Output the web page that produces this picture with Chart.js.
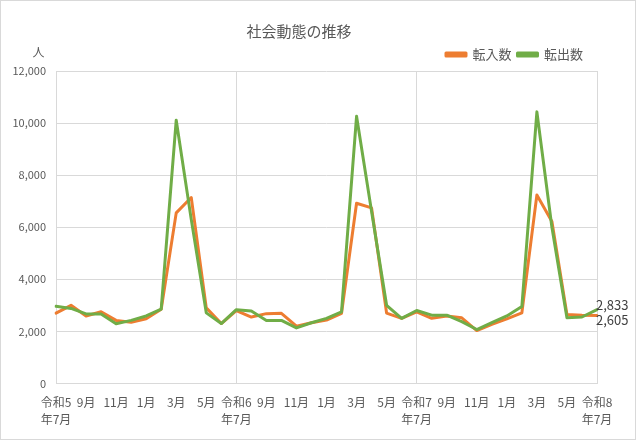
<!DOCTYPE html>
<html lang="ja">
<head>
<meta charset="utf-8">
<script src="https://cdn.jsdelivr.net/npm/chart.js@4/dist/chart.umd.min.js"></script>
<style>
  html, body { margin: 0; padding: 0; background: #fff; }
  #wrap { position: relative; width: 636px; height: 440px; box-sizing: border-box; border: 1px solid #d9d9d9; }
  #chart { display: block; }
</style>
</head>
<body>
<div id="wrap"><canvas id="chart" width="634" height="438"></canvas></div>
<script>
// 社会動態の推移 — 令和5年7月〜令和8年7月（月次）
const months = [
  ['令和5', '年7月'], '8月', '9月', '10月', '11月', '12月', '1月', '2月', '3月', '4月', '5月', '6月',
  ['令和6', '年7月'], '8月', '9月', '10月', '11月', '12月', '1月', '2月', '3月', '4月', '5月', '6月',
  ['令和7', '年7月'], '8月', '9月', '10月', '11月', '12月', '1月', '2月', '3月', '4月', '5月', '6月',
  ['令和8', '年7月'],
];

const movedIn = [
  2700, 3000, 2590, 2750, 2420, 2350, 2480, 2850, 6550, 7140, 2900, 2300,
  2800, 2550, 2680, 2690, 2200, 2330, 2430, 2690, 6920, 6740, 2700, 2500,
  2750, 2500, 2590, 2520, 2030, 2270, 2480, 2710, 7240, 6220, 2650, 2620,
  2605,
];

const movedOut = [
  2960, 2880, 2670, 2670, 2290, 2420, 2590, 2850, 10110, 6300, 2710, 2300,
  2830, 2780, 2420, 2420, 2130, 2330, 2500, 2750, 10260, 6600, 3000, 2500,
  2800, 2620, 2620, 2370, 2070, 2330, 2590, 2950, 10430, 6000, 2520, 2550,
  2833,
];

const FONT = "'Noto Sans CJK JP', 'Noto Sans', sans-serif";
const TXT = '#595959';
const GRID = '#d9d9d9';
const ORANGE = '#ED7D31';
const GREEN = '#70AD47';

Chart.defaults.font.family = FONT;
Chart.defaults.color = TXT;

// 単位「人」と最終月の値ラベル
const extras = {
  id: 'extras',
  afterLayout(chart) {
    // 凡例を少し左へ
    chart.legend.left -= 8;
    chart.legend.right -= 8;
  },
  afterDatasetsDraw(chart) {
    const { ctx } = chart;
    ctx.save();
    ctx.fillStyle = TXT;
    ctx.font = `12px ${FONT}`;
    ctx.textAlign = 'center';
    ctx.textBaseline = 'middle';
    ctx.fillText('人', 37.5, 51);

    ctx.fillStyle = '#404040';
    ctx.font = `13px ${FONT}`;
    ctx.textAlign = 'left';
    const shift = [4, -5]; // 転入数は下、転出数は上
    chart.data.datasets.forEach((ds, i) => {
      const meta = chart.getDatasetMeta(i);
      const last = meta.data[meta.data.length - 1];
      const v = ds.data[ds.data.length - 1];
      ctx.fillText(v.toLocaleString('ja-JP'), last.x - 1, last.y + shift[i]);
    });
    ctx.restore();
  },
};

new Chart(document.getElementById('chart'), {
  type: 'line',
  data: {
    labels: months,
    datasets: [
      { label: '転入数', data: movedIn, borderColor: ORANGE, backgroundColor: ORANGE, order: 2 },
      { label: '転出数', data: movedOut, borderColor: GREEN, backgroundColor: GREEN, order: 1 },
    ],
  },
  options: {
    responsive: false,
    animation: false,
    layout: { padding: { top: 0, right: 38, bottom: 0, left: 0 } },
    elements: {
      line: { borderWidth: 3, tension: 0, borderJoinStyle: 'round', borderCapStyle: 'round' },
      point: { radius: 0 },
    },
    plugins: {
      title: {
        display: true,
        text: '社会動態の推移',
        color: TXT,
        font: { size: 15, weight: 'normal' },
        padding: { top: 21, bottom: 2 },
      },
      legend: {
        position: 'top',
        align: 'end',
        labels: {
          color: TXT,
          font: { size: 13 },
          boxWidth: 20,
          boxHeight: 3,
          padding: 6,
          sort: (a, b) => a.datasetIndex - b.datasetIndex,
        },
      },
      tooltip: { enabled: false },
    },
    scales: {
      x: {
        offset: false,
        grid: {
          drawTicks: false,
          color: (c) => (c.index % 12 === 0 ? GRID : 'rgba(0,0,0,0)'),
        },
        border: { color: GRID },
        ticks: {
          autoSkip: false,
          maxRotation: 0,
          padding: 11,
          color: TXT,
          font: { size: 12, lineHeight: 1.4 },
          callback: (v, i) => (i % 2 === 0 ? months[i] : ''),
        },
      },
      y: {
        min: 0,
        max: 12000,
        afterFit: (s) => { s.width = 55; },
        grid: { drawTicks: false, color: GRID },
        border: { display: false },
        ticks: {
          stepSize: 2000,
          padding: 10,
          color: TXT,
          font: { size: 11 },
          callback: (v) => v.toLocaleString('ja-JP'),
        },
      },
    },
  },
  plugins: [extras],
});
</script>
</body>
</html>
